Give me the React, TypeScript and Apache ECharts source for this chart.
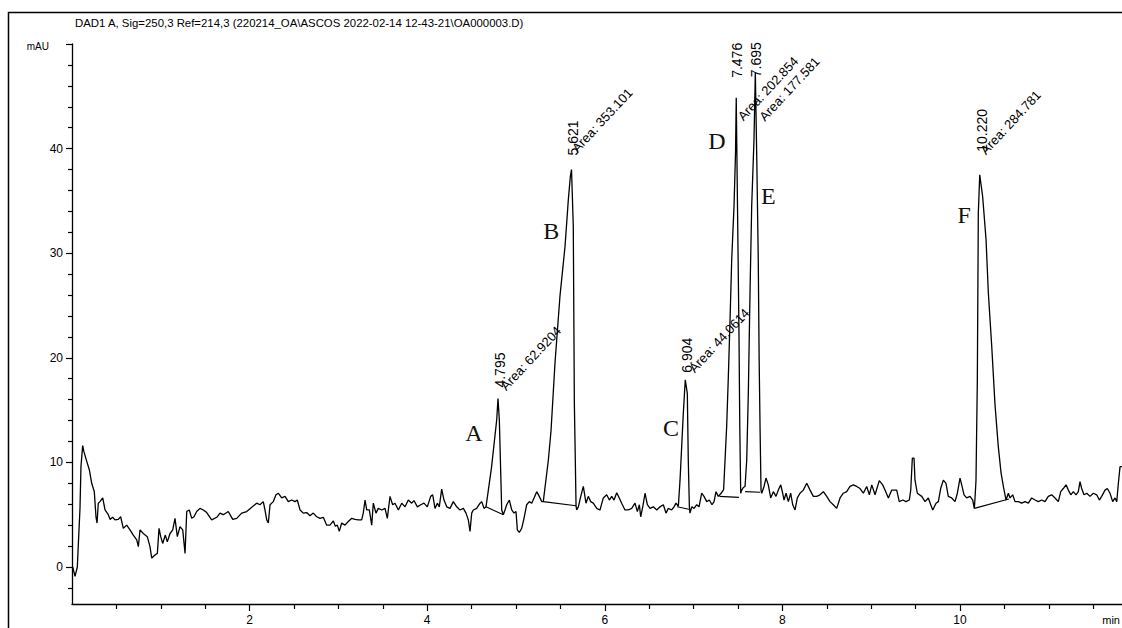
import React, { useEffect, useRef } from "react";
import * as echarts from "echarts";

const titleText =
  "DAD1 A, Sig=250,3 Ref=214,3 (220214_OA\\ASCOS 2022-02-14 12-43-21\\OA000003.D)";
const yUnit = "mAU";
const xUnit = "min";

const yMajorTicks = [0, 10, 20, 30, 40, 50];
const yLabelValues = [0, 10, 20, 30, 40];
const yMinorTicks = [-2, 2, 4, 6, 8, 12, 14, 16, 18, 22, 24, 26, 28, 32, 34, 36, 38, 42, 44, 46, 48];
const xMajorTicks = [2, 4, 6, 8, 10];
const xMinorTicks = [0.5, 1, 1.5, 2.5, 3, 3.5, 4.5, 5, 5.5, 6.5, 7, 7.5, 8.5, 9, 9.5, 10.5, 11, 11.5];

// chromatogram trace, [time (min), signal (mAU)]
const segStart = [
  [0.008, 0.0], [0.034, -0.9], [0.06, 0.0], [0.071, 2.1], [0.09, 5.6], [0.101, 9.6], [0.12, 11.6],
  [0.135, 11.0], [0.166, 10.1], [0.195, 9.3], [0.222, 8.0], [0.251, 7.2], [0.27, 4.8], [0.282, 4.2],
  [0.296, 6.1], [0.315, 6.25], [0.346, 6.6], [0.372, 5.45], [0.409, 5.0], [0.428, 4.55], [0.458, 4.75],
  [0.484, 4.5], [0.521, 4.55], [0.548, 4.8], [0.578, 3.7], [0.616, 4.0], [0.653, 3.55], [0.69, 3.05],
  [0.729, 2.6], [0.747, 1.95], [0.766, 3.55], [0.803, 3.2], [0.848, 2.9], [0.878, 1.95], [0.898, 0.85],
  [0.935, 1.15], [0.961, 1.3], [0.98, 3.7], [0.999, 2.9], [1.021, 2.25], [1.051, 3.05], [1.073, 2.4],
  [1.104, 3.2], [1.134, 3.55], [1.16, 4.65], [1.186, 2.9], [1.216, 3.85], [1.247, 3.55], [1.273, 1.3],
  [1.292, 5.3], [1.321, 5.45], [1.348, 4.65], [1.374, 4.8], [1.404, 5.3], [1.441, 5.6], [1.479, 5.45],
  [1.517, 5.2], [1.573, 4.5], [1.63, 4.75], [1.667, 5.15], [1.704, 5.0], [1.76, 5.3], [1.81, 4.55],
  [1.855, 4.65], [1.911, 5.15], [1.967, 5.3], [2.024, 5.7], [2.08, 6.1], [2.117, 5.95], [2.154, 6.25],
  [2.173, 5.45], [2.193, 4.5], [2.211, 4.2], [2.23, 5.95], [2.267, 6.25], [2.297, 6.9], [2.323, 7.05],
  [2.361, 6.6], [2.399, 6.75], [2.436, 6.25], [2.474, 6.4], [2.511, 6.25], [2.537, 6.4], [2.568, 5.45],
  [2.605, 5.15], [2.643, 5.2], [2.68, 4.9], [2.717, 5.15], [2.756, 4.8], [2.793, 4.65], [2.83, 4.75],
  [2.868, 4.0], [2.905, 4.0], [2.943, 4.4], [2.965, 3.9], [2.988, 4.0], [3.01, 3.4], [3.037, 4.2],
  [3.074, 4.0], [3.111, 4.35], [3.15, 4.65], [3.187, 4.55], [3.224, 4.5], [3.262, 4.5], [3.28, 5.15],
  [3.3, 6.4], [3.319, 5.45], [3.348, 5.45], [3.375, 4.0], [3.393, 6.1], [3.423, 5.15], [3.449, 5.6],
  [3.488, 5.45], [3.525, 5.6], [3.551, 4.65], [3.581, 6.75], [3.611, 5.95], [3.637, 6.1], [3.675, 5.45],
  [3.713, 6.1], [3.75, 5.75], [3.787, 6.4], [3.825, 6.1], [3.851, 6.35], [3.889, 5.75], [3.927, 5.95],
  [3.964, 6.1], [4.001, 5.75], [4.039, 6.75], [4.062, 6.9], [4.088, 5.6], [4.114, 6.1], [4.136, 5.75],
  [4.163, 7.45], [4.189, 6.4], [4.22, 5.75], [4.257, 5.6], [4.294, 6.25], [4.332, 5.75], [4.369, 5.45],
  [4.407, 5.6], [4.437, 5.15], [4.463, 4.5], [4.482, 3.4], [4.501, 5.15], [4.519, 5.45], [4.557, 5.6],
  [4.595, 6.1], [4.614, 6.25], [4.64, 5.6],
];
const peakA = [
  [4.662, 5.75], [4.724, 9.5], [4.783, 14.1], [4.797, 16.1], [4.812, 14.1], [4.839, 5.45], [4.857, 5.0],
];
const segAB = [
  [4.876, 5.45], [4.895, 5.95], [4.925, 6.4], [4.952, 5.45], [4.977, 5.15], [5.0, 5.3], [5.015, 3.55],
  [5.037, 3.3], [5.064, 3.7], [5.09, 4.65], [5.12, 5.95], [5.15, 6.25], [5.177, 6.1], [5.203, 6.6],
  [5.233, 7.2], [5.262, 6.75], [5.289, 6.25],
];
const peakB = [
  [5.307, 6.25], [5.364, 10.2], [5.394, 13.0], [5.439, 19.5], [5.495, 25.9], [5.552, 30.65],
  [5.589, 35.1], [5.612, 37.35], [5.625, 38.0], [5.645, 32.6], [5.657, 15.7], [5.664, 12.15],
  [5.676, 5.85],
];
const segBC = [
  [5.683, 5.45], [5.702, 5.75], [5.729, 6.75], [5.758, 7.7], [5.788, 6.1], [5.814, 6.75], [5.841, 6.25],
  [5.87, 6.1], [5.909, 5.6], [5.946, 5.45], [5.983, 6.6], [6.021, 6.9], [6.051, 6.4], [6.078, 6.75],
  [6.104, 6.4], [6.134, 7.1], [6.163, 6.6], [6.19, 6.1], [6.227, 5.45], [6.265, 5.45], [6.303, 5.6],
  [6.34, 6.1], [6.366, 5.3], [6.389, 5.95], [6.404, 4.8], [6.427, 5.75], [6.453, 7.05], [6.479, 5.95],
  [6.509, 5.6], [6.546, 5.75], [6.585, 5.45], [6.622, 5.75], [6.659, 5.95], [6.689, 5.15], [6.715, 5.6],
  [6.753, 5.45], [6.779, 5.75], [6.802, 6.1],
];
const peakC = [
  [6.828, 5.8], [6.847, 8.3], [6.884, 14.7], [6.906, 17.9], [6.929, 16.6], [6.94, 10.2], [6.952, 5.8],
  [6.959, 5.15],
];
const segCD = [
  [6.979, 5.75], [7.005, 5.6], [7.035, 5.95], [7.061, 5.75], [7.091, 7.05], [7.117, 6.75], [7.148, 6.25],
  [7.177, 6.4], [7.207, 5.95], [7.23, 6.25], [7.252, 7.2], [7.278, 6.75],
];
const peakDE = [
  [7.305, 7.0], [7.338, 7.4], [7.372, 13.4], [7.391, 18.2], [7.41, 23.6], [7.429, 29.4], [7.455, 34.5],
  [7.472, 39.6], [7.48, 44.85], [7.495, 33.85], [7.51, 23.0], [7.52, 13.4], [7.53, 7.05], [7.542, 7.35],
  [7.56, 7.6], [7.579, 7.7], [7.598, 10.2], [7.616, 16.6], [7.635, 26.2], [7.654, 34.5], [7.68, 40.9],
  [7.695, 47.3], [7.712, 38.6], [7.728, 29.4], [7.738, 19.8], [7.748, 13.4], [7.759, 7.35],
];
const segEF = [
  [7.767, 7.05], [7.793, 7.7], [7.815, 8.5], [7.841, 7.85], [7.868, 6.6], [7.898, 7.2], [7.928, 6.75],
  [7.954, 7.35], [7.981, 7.85], [8.003, 7.05], [8.018, 6.4], [8.041, 7.05], [8.067, 6.25], [8.093, 7.05],
  [8.116, 5.95], [8.142, 5.45], [8.168, 6.6], [8.198, 7.05], [8.235, 7.35], [8.274, 8.0], [8.311, 7.35],
  [8.348, 6.75], [8.386, 6.75], [8.423, 6.9], [8.461, 7.2], [8.499, 6.75], [8.536, 6.25], [8.573, 5.95],
  [8.611, 5.6], [8.649, 6.6], [8.686, 7.05], [8.724, 7.2], [8.761, 7.7], [8.799, 7.85], [8.836, 7.7],
  [8.874, 7.5], [8.911, 7.05], [8.949, 7.7], [8.979, 6.9], [9.006, 7.85], [9.043, 6.9], [9.091, 8.25],
  [9.129, 7.85], [9.155, 7.35], [9.193, 6.6], [9.231, 7.35], [9.287, 7.35], [9.316, 6.25], [9.355, 6.4],
  [9.392, 6.25], [9.429, 6.4], [9.445, 7.35], [9.463, 10.4], [9.482, 10.4], [9.493, 8.3], [9.519, 7.05],
  [9.569, 6.75], [9.606, 6.25], [9.643, 6.6], [9.67, 5.95], [9.693, 5.45], [9.73, 6.1], [9.756, 6.25],
  [9.782, 7.5], [9.812, 8.3], [9.842, 8.0], [9.868, 6.75], [9.906, 6.6], [9.944, 6.25], [9.97, 7.05],
  [10.0, 8.5], [10.023, 7.7], [10.045, 6.9], [10.075, 6.6], [10.113, 6.75], [10.143, 6.4],
];
const peakF = [
  [10.161, 5.6], [10.169, 6.6], [10.18, 8.3], [10.195, 17.9], [10.206, 33.85], [10.222, 37.5],
  [10.255, 35.4], [10.293, 31.3], [10.319, 26.2], [10.357, 21.1], [10.394, 15.5], [10.431, 11.5],
  [10.462, 9.0], [10.49, 7.6], [10.518, 6.4],
];
const segEnd = [
  [10.544, 7.05], [10.563, 6.6], [10.593, 6.9], [10.619, 6.25], [10.657, 6.25], [10.695, 6.1],
  [10.732, 6.25], [10.769, 6.1], [10.807, 6.6], [10.845, 6.4], [10.882, 6.25], [10.92, 6.4],
  [10.957, 6.25], [10.994, 6.75], [11.032, 6.9], [11.07, 6.6], [11.107, 6.25], [11.134, 7.2],
  [11.163, 7.5], [11.194, 7.85], [11.22, 7.35], [11.247, 6.9], [11.276, 7.2], [11.306, 6.9],
  [11.332, 7.2], [11.351, 8.15], [11.37, 7.5], [11.396, 6.9], [11.427, 7.05], [11.464, 6.75],
  [11.501, 7.05], [11.539, 6.9], [11.569, 6.4], [11.595, 6.75], [11.633, 7.35], [11.659, 7.5],
  [11.689, 7.05], [11.719, 6.25], [11.745, 6.6], [11.765, 6.25], [11.783, 8.0], [11.802, 9.6],
  [11.824, 9.6],
];

// integrated peaks
const peakLetters = ["A", "B", "C", "D", "E", "F"];
const peakTimes = [4.795, 5.621, 6.904, 7.476, 7.695, 10.22];
const peakTimeLabels = ["4.795", "5.621", "6.904", "7.476", "7.695", "10.220"];
const peakApexMAU = [16.1, 38.0, 17.9, 44.85, 47.3, 37.5];
const peakAreas = ["62.9204", "353.101", "44.0614", "202.854", "177.581", "284.781"];
const baseStartTime = [4.662, 5.307, 6.815, 7.29, 7.58, 10.161];
const baseStartMAU = [5.75, 6.25, 5.75, 6.75, 7.2, 5.6];
const baseEndTime = [4.857, 5.676, 6.959, 7.51, 7.75, 10.55];
const baseEndMAU = [5.0, 5.85, 5.5, 6.65, 7.15, 6.5];

const X_MAX = 11.824;
const Y_MIN = -3.54;
const Y_MAX = 50;

const SANS = '"Liberation Sans", Arial, Helvetica, sans-serif';
const SERIF = '"Liberation Serif", "Times New Roman", Times, serif';

// label placement relative to apex (pixels)
const rtOffset = [[2, -11], [2, -14], [2, -7], [1, -20], [1, 5], [2, -23]];
const areaOffset = [[10, -6], [8, -15], [11, -5], [9, 25], [11, 51], [8, -18]];
const letterOffset = [[-24, 34], [-20, 61], [-14, 48], [-19, 43], [13, 124], [-15.5, 40]];

export default function App() {
  const ref = useRef<HTMLDivElement>(null);

  useEffect(() => {
    const el = ref.current;
    if (!el) return;
    const chart = echarts.init(el, null, { renderer: "svg" });

    const trace = [
      ...segStart, ...peakA, ...segAB, ...peakB, ...segBC, ...peakC, ...segCD, ...peakDE, ...segEF,
      ...peakF, ...segEnd,
    ];

    const baseSeries = baseStartTime.map((t, i) => ({
      type: "line",
      xAxisIndex: 0,
      yAxisIndex: 0,
      silent: true,
      showSymbol: false,
      symbol: "none",
      data: [[t, baseStartMAU[i]], [baseEndTime[i], baseEndMAU[i]]],
      lineStyle: { color: "#000", width: 1.1 },
    }));

    const tickStyle = { color: "#000", width: 1.2 };

    chart.setOption({
      animation: false,
      backgroundColor: "#fff",
      grid: {
        left: 72,
        top: 44,
        right: 0,
        bottom: 24,
        containLabel: false,
        outerBoundsMode: "none",
      },
      xAxis: [
        {
          type: "value",
          min: 0,
          max: X_MAX,
          position: "bottom",
          axisLine: { show: true, onZero: false, lineStyle: { color: "#000", width: 1.3 } },
          axisTick: { show: true, customValues: xMajorTicks, length: 7, lineStyle: tickStyle },
          axisLabel: {
            show: true,
            customValues: xMajorTicks,
            margin: 10,
            fontSize: 12,
            color: "#000",
            fontFamily: SANS,
          },
          splitLine: { show: false },
        },
        {
          type: "value",
          min: 0,
          max: X_MAX,
          position: "bottom",
          axisLine: { show: false, onZero: false },
          axisTick: { show: true, customValues: xMinorTicks, length: 5, lineStyle: tickStyle },
          axisLabel: { show: false },
          splitLine: { show: false },
        },
      ],
      yAxis: [
        {
          type: "value",
          min: Y_MIN,
          max: Y_MAX,
          position: "left",
          axisLine: { show: true, onZero: false, lineStyle: { color: "#000", width: 1.3 } },
          axisTick: { show: true, customValues: yMajorTicks, length: 6, lineStyle: tickStyle },
          axisLabel: {
            show: true,
            customValues: yLabelValues,
            margin: 9,
            fontSize: 12,
            color: "#000",
            fontFamily: SANS,
          },
          splitLine: { show: false },
        },
        {
          type: "value",
          min: Y_MIN,
          max: Y_MAX,
          position: "left",
          axisLine: { show: false, onZero: false },
          axisTick: { show: true, customValues: yMinorTicks, length: 4, lineStyle: tickStyle },
          axisLabel: { show: false },
          splitLine: { show: false },
        },
      ],
      series: [
        {
          type: "line",
          xAxisIndex: 0,
          yAxisIndex: 0,
          silent: true,
          showSymbol: false,
          symbol: "none",
          data: trace,
          lineStyle: { color: "#000", width: 1.3 },
        },
        ...baseSeries,
      ],
    });

    const graphics: any[] = [
      {
        type: "rect",
        silent: true,
        shape: { x: 8.5, y: 12.5, width: 1400, height: 900 },
        style: { fill: "none", stroke: "#000", lineWidth: 1.5 },
      },
      {
        type: "text",
        silent: true,
        x: 75,
        y: 23,
        style: { text: titleText, fontSize: 11.4, fontFamily: SANS, fill: "#000", align: "left", verticalAlign: "middle" },
      },
      {
        type: "text",
        silent: true,
        x: 49,
        y: 46,
        style: { text: yUnit, fontSize: 10, fontFamily: SANS, fill: "#000", align: "right", verticalAlign: "middle" },
      },
      {
        type: "text",
        silent: true,
        x: 1120,
        y: 620,
        style: { text: xUnit, fontSize: 11, fontFamily: SANS, fill: "#000", align: "right", verticalAlign: "middle" },
      },
    ];

    peakTimes.forEach((t, i) => {
      const p = chart.convertToPixel({ seriesIndex: 0 }, [t, peakApexMAU[i]]) as number[];
      const px = p[0];
      const py = p[1];
      graphics.push({
        type: "text",
        silent: true,
        x: px + rtOffset[i][0],
        y: py + rtOffset[i][1],
        rotation: Math.PI / 2,
        style: {
          text: peakTimeLabels[i],
          fontSize: 14,
          fontFamily: SANS,
          fill: "#000",
          align: "left",
          verticalAlign: "middle",
        },
      });
      graphics.push({
        type: "text",
        silent: true,
        x: px + areaOffset[i][0],
        y: py + areaOffset[i][1],
        rotation: (47 * Math.PI) / 180,
        style: {
          text: "Area: " + peakAreas[i],
          fontSize: 13,
          fontFamily: SANS,
          fill: "#000",
          align: "left",
          verticalAlign: "bottom",
        },
      });
      graphics.push({
        type: "text",
        silent: true,
        x: px + letterOffset[i][0],
        y: py + letterOffset[i][1],
        style: {
          text: peakLetters[i],
          fontSize: 24,
          fontFamily: SERIF,
          fill: "#111",
          align: "center",
          verticalAlign: "middle",
        },
      });
    });

    chart.setOption({ graphic: graphics });

    return () => {
      chart.dispose();
    };
  }, []);

  return (
    <div
      ref={ref}
      style={{ position: "fixed", left: 0, top: 0, width: 1122, height: 628, background: "#fff" }}
    />
  );
}
